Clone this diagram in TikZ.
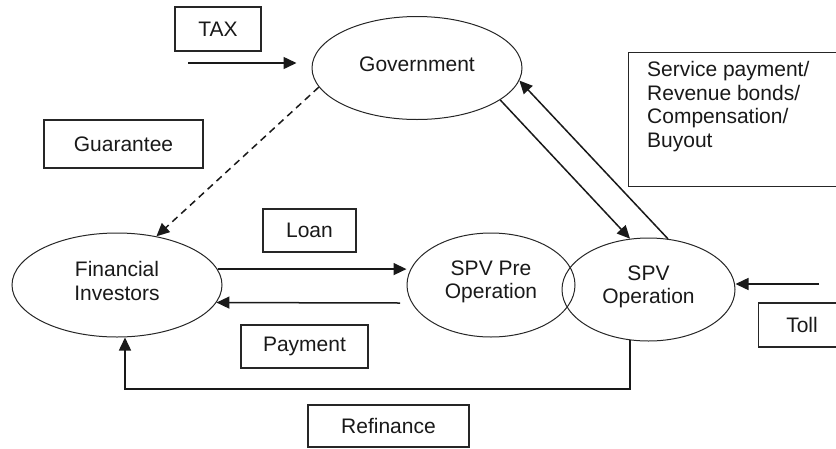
\documentclass[tikz,border=0pt]{standalone}
\usepackage{fontspec}
\setmainfont{Liberation Sans}
\usetikzlibrary{shapes.geometric,arrows.meta}
\begin{document}
\begin{tikzpicture}[x=1pt,y=-1pt,
  every node/.style={font=\fontsize{21}{23.6}\selectfont, text=black!90},
  oval/.style={ellipse, draw=black!85, line width=1pt, inner sep=0pt},
  otxt/.style={inner sep=0pt, align=center},
  lbl/.style={rectangle, draw=black!85, line width=1.1pt, inner sep=0pt, align=center},
  flow/.style={draw=black!90, line width=1.5pt, -{Triangle[length=13pt,width=12pt]}},
  plain/.style={draw=black!90, line width=1.5pt}]
\useasboundingbox (0,0) rectangle (836,448);
\clip (0,0) rectangle (836,448);
% ellipses
\node[oval, minimum width=210pt, minimum height=103pt] (gov) at (417,68) {};
\node[otxt] (govtxt) at (417,64) {Government};
\node[oval, minimum width=210pt, minimum height=104pt] (fi) at (117,285) {};
\node[otxt] (fitxt) at (117,281) {Financial\\Investors};
\node[oval, minimum width=168pt, minimum height=104pt] (spvpre) at (491,285) {};
\node[otxt] (spvpretxt) at (491,282) {SPV Pre\\Operation};
\node[oval, minimum width=173pt, minimum height=103pt] (spvop) at (648.5,289.5) {};
\node[otxt] (spvoptxt) at (648.5,287) {SPV\\Operation};
% label boxes
\node[lbl, minimum width=86pt, minimum height=44pt] (tax) at (218,29) {TAX};
\node[lbl, minimum width=159pt, minimum height=48pt] (guar) at (123.5,144) {Guarantee};
\node[lbl, minimum width=93pt, minimum height=43pt] (loan) at (309.5,230.5) {Loan};
\node[lbl, minimum width=127pt, minimum height=43pt] (pay) at (304.5,346.5) {Payment};
\node[lbl, minimum width=161pt, minimum height=42pt] (refi) at (388.5,426) {Refinance};
\node[lbl, minimum width=100pt, minimum height=44pt, anchor=west] (toll) at (758,325) {\hspace*{27pt}Toll\hspace*{40pt}};
\node[lbl, minimum width=230pt, minimum height=134pt, anchor=north west] (serv) at (628,52) {};
\node[anchor=north west, align=left, inner sep=0pt, font=\fontsize{21}{23.7}\selectfont] (servtxt) at (647,61)
  {Service payment/\\Revenue bonds/\\Compensation/\\Buyout};
% free ends
\coordinate (taxstart) at (188,63);
\coordinate (tollstart) at (819,284);
\coordinate (refcorner) at (125,389);
\coordinate (paystart) at (400,303);
% connectors
\draw[flow] (taxstart) -- ([xshift=-15pt]gov.west |- taxstart);
\draw[flow, dashed, dash pattern=on 7pt off 5pt] (gov.191) -- (fi.51);
\draw[flow] (gov.-21.7) -- (spvop.110);
\draw[flow] (spvop.69.6) -- (gov.-7.5);
\draw[flow] (fi.9) -- (fi.9 -| spvpre.west);
\draw[flow] (paystart) -- (fi.350);
\draw[flow] (tollstart) -- (spvop.east |- tollstart);
\draw[flow] (spvop.-110) |- (refcorner) -- (refcorner |- fi.south);
\end{tikzpicture}
\end{document}
